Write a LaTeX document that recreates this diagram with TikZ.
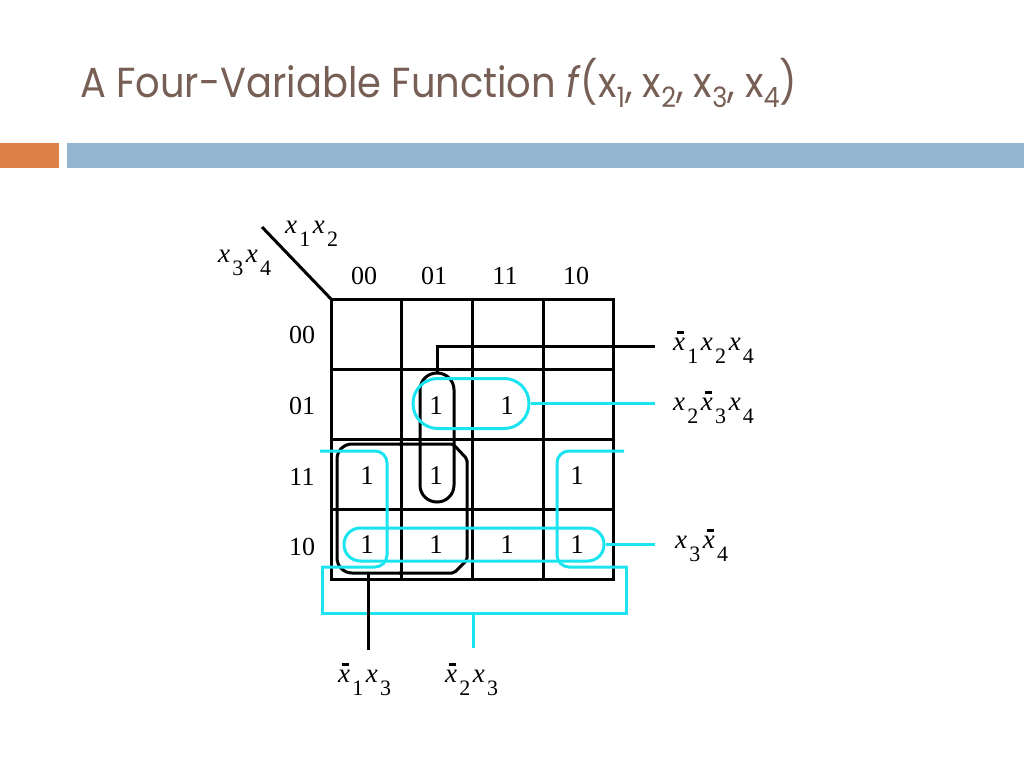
\documentclass[tikz,border=0pt]{standalone}
\usepackage{fontspec}
\usepackage{graphicx}
\setmainfont{Liberation Serif}
\newfontfamily\titlefont{Poppins}
\definecolor{titlec}{HTML}{775F55}
\definecolor{orng}{HTML}{DD8047}
\definecolor{blu}{HTML}{94B6D2}
\definecolor{cyn}{RGB}{25,228,240}
\newcommand\xv{\textit{x}}
\newcommand\sbs[1]{\kern2.2pt\raisebox{-13pt}{\fontsize{22}{22}\selectfont #1}\kern2.6pt}
\newcommand\xbr{\makebox[0pt][l]{\hspace{4pt}\rule[16pt]{7pt}{2.8pt}}\textit{x}}
\newcommand\tsb[1]{\raisebox{-10pt}{\fontsize{28}{28}\selectfont #1}}
\begin{document}
\begin{tikzpicture}[x=1pt,y=-1pt,
  gridline/.style={line width=3pt, line cap=rect},
  bl/.style={line width=3pt, draw=black},
  cyl/.style={line width=3pt, draw=cyn},
  lbl/.style={font=\fontsize{27}{27}\selectfont, inner sep=0pt, anchor=base west},
  num/.style={font=\fontsize{26}{26}\selectfont, inner sep=0pt, anchor=base},
  one/.style={font=\fontsize{27}{27}\selectfont, inner sep=0pt, anchor=base},
  ttl/.style={font=\titlefont\fontsize{42}{42}\selectfont, text=titlec, inner sep=0pt, anchor=base west}]
\useasboundingbox (0,0) rectangle (1024,768);
% header bars
\fill[orng] (0,143) rectangle (59,168);
\fill[blu] (67,143) rectangle (1024,168);
\node[ttl] (title) at (80,97) {\resizebox{717pt}{\height}{A Four-Variable Function \textit{f}(x\tsb{1}, x\tsb{2}, x\tsb{3}, x\tsb{4})}};
% grid
\draw[gridline] (331,299) rectangle (613,579);
\foreach \x in {401,472,543} \draw[gridline] (\x,299) -- (\x,579);
\foreach \y in {369,439,509} \draw[gridline] (331,\y) -- (613,\y);
\coordinate (dg) at (262,227);
\coordinate (corner) at (331,299);
\draw[line width=3pt] (dg) -- (corner);
% axis labels
\node[lbl] (x12) at (285,233) {\xv\sbs{1}\xv\sbs{2}};
\node[lbl] (x34) at (218,262) {\xv\sbs{3}\xv\sbs{4}};
\node[num] (c00) at (364,284) {00};
\node[num] (c01) at (434,284) {01};
\node[num] (c11) at (505,284) {11};
\node[num] (c10) at (576,284) {10};
\node[num] (r00) at (302,343) {00};
\node[num] (r01) at (302,414) {01};
\node[num] (r11) at (302,485) {11};
\node[num] (r10) at (302,555) {10};
% ones
\node[one] (m5) at (436,414) {1};
\node[one] (m13) at (507,414) {1};
\node[one] (m3) at (367,484) {1};
\node[one] (m7) at (436,484) {1};
\node[one] (m11) at (577,484) {1};
\node[one] (m2) at (367,553) {1};
\node[one] (m6) at (436,553) {1};
\node[one] (m14) at (507,553) {1};
\node[one] (m10) at (577,553) {1};
% black loops
\node[bl, rectangle, rounded corners=16.8pt, minimum width=34pt, minimum height=129pt, inner sep=0pt] (lpA) at (437,437.5) {};
\draw[bl, rounded corners=15pt] (400,444) -- (337,444) -- (337,573) -- (400,573);
\draw[bl, rounded corners=2pt] (399,444) -- (453,444) -- (467,459) -- (467,560) -- (454,573) -- (399,573);
\coordinate (lpB) at (368,573);
% cyan loops
\node[cyl, rectangle, rounded corners=24.8pt, minimum width=116pt, minimum height=50pt, inner sep=0pt] (lpC) at (471,403.5) {};
\node[cyl, rectangle, rounded corners=16.3pt, minimum width=260pt, minimum height=33pt, inner sep=0pt] (lpD) at (474,544.5) {};
\draw[cyl, rounded corners=12pt] (320,451) -- (387,451) -- (387,567) -- (321,567);
\draw[cyl, line join=miter] (322,566) -- (322,613) -- (626,613) -- (626,566);
\draw[cyl, rounded corners=12pt] (627,567) -- (557,567) -- (557,451) -- (624,451);
\coordinate (lpE) at (473,613);
% term labels
\node[lbl] (t1) at (673,350) {\xbr\sbs{1}\xv\sbs{2}\xv\sbs{4}};
\node[lbl] (t2) at (673,410) {\xv\sbs{2}\xbr\sbs{3}\xv\sbs{4}};
\node[lbl] (t3) at (675,548) {\xv\sbs{3}\xbr\sbs{4}};
\node[lbl] (t4) at (338,682) {\xbr\sbs{1}\xv\sbs{3}};
\node[lbl] (t5) at (445,682) {\xbr\sbs{2}\xv\sbs{3}};
% connector ends
\coordinate (e1) at (655,346);
\coordinate (e2) at (655,403.5);
\coordinate (e3) at (655,544.5);
\coordinate (e4) at (368,650);
\coordinate (e5) at (473,648);
\draw[line width=3pt] (lpA.north) |- (e1);
\draw[cyl] (lpC.east) -- (e2);
\draw[cyl] (lpD.east) -- (e3);
\draw[line width=3pt] (lpB) -- (e4);
\draw[cyl] (lpE) -- (e5);
\end{tikzpicture}
\end{document}
